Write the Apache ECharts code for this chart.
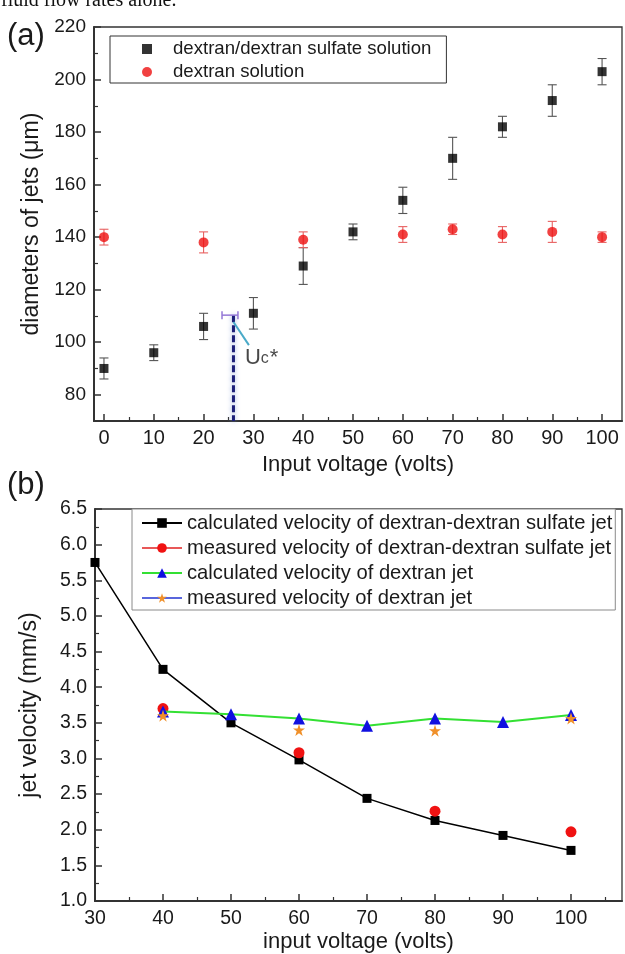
<!DOCTYPE html>
<html><head><meta charset="utf-8">
<script src="https://cdn.jsdelivr.net/npm/echarts@6/dist/echarts.min.js"></script>
<style>html,body{margin:0;padding:0;background:#fff}#c{width:625px;height:954px}</style>
</head><body><div id="c"></div>
<script>
// ---------- Panel (a) data ----------
const voltA = [0, 10, 20, 30, 40, 50, 60, 70, 80, 90, 100];
const diamDDS = [90, 96, 106, 111, 129, 142, 154, 170, 182, 192, 203];
const errDDS = [4, 3, 5, 6, 7, 3, 5, 8, 4, 6, 5];
const voltDex = [0, 20, 40, 60, 70, 80, 90, 100];
const diamDex = [140, 138, 139, 141, 143, 141, 142, 140];
const errDex = [3, 4, 3, 3, 2, 3, 4, 2];
const xTicksA = [0, 10, 20, 30, 40, 50, 60, 70, 80, 90, 100];
const xMinorA = [5, 15, 25, 35, 45, 55, 65, 75, 85, 95];
const yTicksA = [80, 100, 120, 140, 160, 180, 200, 220];
const yMinorA = [90, 110, 130, 150, 170, 190, 210];
// critical voltage annotation (Uc*)
const ucVolt = [25.3];
const ucVoltErr = [1.6];
const ucDiam = [110.3];
const ucLineVolt = [26];
const ucArrowFrom = [29.1, 98.9];
const ucArrowTo = [26.0, 107.7];
const ucLabelAt = [28.3, 93.9];

// ---------- Panel (b) data ----------
const voltB = [30, 40, 50, 60, 70, 80, 90, 100];
const calcVelDDS = [5.75, 4.25, 3.50, 2.98, 2.44, 2.13, 1.92, 1.71];
const voltMeas = [40, 60, 80, 100];
const measVelDDS = [3.70, 3.08, 2.26, 1.97];
const voltDexB = [40, 50, 60, 70, 80, 90, 100];
const calcVelDex = [3.66, 3.62, 3.56, 3.46, 3.56, 3.51, 3.61];
const measVelDex = [3.60, 3.40, 3.39, 3.56];
const xTicksB = [30, 40, 50, 60, 70, 80, 90, 100];
const xMinorB = [35, 45, 55, 65, 75, 85, 95, 105];
const yTicksB = [1.0, 1.5, 2.0, 2.5, 3.0, 3.5, 4.0, 4.5, 5.0, 5.5, 6.0, 6.5];
const yMinorB = [1.25, 1.75, 2.25, 2.75, 3.25, 3.75, 4.25, 4.75, 5.25, 5.75, 6.25];

const nA1 = 'dextran/dextran sulfate solution';
const nA2 = 'dextran solution';
const nB1 = 'calculated velocity of dextran-dextran sulfate jet';
const nB2 = 'measured velocity of dextran-dextran sulfate jet';
const nB3 = 'calculated velocity of dextran jet';
const nB4 = 'measured velocity of dextran jet';

const FONT = "'Liberation Sans', Arial, sans-serif";
const TXT = '#1a1a1a';
const AX = '#333';

const A_XMIN = -2, A_XMAX = 104, A_YMIN = 70, A_YMAX = 220;
const B_XMIN = 30, B_XMAX = 107.5, B_YMIN = 1.0, B_YMAX = 6.5;

function xMain(gi, min, max, ticks, name, nameGap, labelSize, nameSize, margin) {
  return {
    type: 'value', gridIndex: gi, min, max, position: 'bottom',
    name, nameLocation: 'middle', nameGap,
    nameTextStyle: { fontFamily: FONT, fontSize: nameSize, color: TXT },
    axisLine: { show: true, onZero: false, lineStyle: { color: AX, width: 2 } },
    axisTick: { show: true, inside: true, length: 7, customValues: ticks, lineStyle: { color: AX, width: 1.5 } },
    axisLabel: { show: true, customValues: ticks, margin, fontFamily: FONT, fontSize: labelSize, color: TXT },
    splitLine: { show: false }, axisPointer: { show: false }
  };
}
function xMinor(gi, min, max, ticks) {
  return {
    type: 'value', gridIndex: gi, min, max, position: 'bottom',
    axisLine: { show: false, onZero: false },
    axisTick: { show: true, inside: true, length: 4, customValues: ticks, lineStyle: { color: AX, width: 1.2 } },
    axisLabel: { show: false }, splitLine: { show: false }, axisPointer: { show: false }
  };
}
function yMain(gi, min, max, ticks, name, nameGap, labelSize, nameSize) {
  return {
    type: 'value', gridIndex: gi, min, max, position: 'left',
    name, nameLocation: 'middle', nameGap,
    nameTextStyle: { fontFamily: FONT, fontSize: nameSize, color: TXT },
    axisLine: { show: true, onZero: false, lineStyle: { color: AX, width: 2 } },
    axisTick: { show: true, inside: true, length: 7, customValues: ticks, lineStyle: { color: AX, width: 1.5 } },
    axisLabel: { show: true, customValues: ticks, margin: 8, fontFamily: FONT, fontSize: labelSize, color: TXT,
      formatter: v => (gi === 1 ? v.toFixed(1) : String(v)) },
    splitLine: { show: false }, axisPointer: { show: false }
  };
}
function yMinor(gi, min, max, ticks) {
  return {
    type: 'value', gridIndex: gi, min, max, position: 'left',
    axisLine: { show: false, onZero: false },
    axisTick: { show: true, inside: true, length: 4, customValues: ticks, lineStyle: { color: AX, width: 1.2 } },
    axisLabel: { show: false }, splitLine: { show: false }, axisPointer: { show: false }
  };
}

function vErr(color) {
  return function (params, api) {
    const x = api.value(0), y = api.value(1), e = api.value(2);
    const p1 = api.coord([x, y + e]), p2 = api.coord([x, y - e]);
    const w = 4.5, st = { stroke: color, lineWidth: 1.1 };
    return { type: 'group', children: [
      { type: 'line', shape: { x1: p1[0], y1: p1[1], x2: p2[0], y2: p2[1] }, style: st },
      { type: 'line', shape: { x1: p1[0] - w, y1: p1[1], x2: p1[0] + w, y2: p1[1] }, style: st },
      { type: 'line', shape: { x1: p2[0] - w, y1: p2[1], x2: p2[0] + w, y2: p2[1] }, style: st }
    ] };
  };
}
function hErr(color) {
  return function (params, api) {
    const x = api.value(0), y = api.value(1), e = api.value(2);
    const p1 = api.coord([x - e, y]), p2 = api.coord([x + e, y]);
    const h = 4, st = { stroke: color, lineWidth: 1.5 };
    return { type: 'group', children: [
      { type: 'line', shape: { x1: p1[0], y1: p1[1], x2: p2[0], y2: p2[1] }, style: st },
      { type: 'line', shape: { x1: p1[0], y1: p1[1] - h, x2: p1[0], y2: p1[1] + h }, style: st },
      { type: 'line', shape: { x1: p2[0], y1: p2[1] - h, x2: p2[0], y2: p2[1] + h }, style: st }
    ] };
  };
}
function dashDrop(params, api) {
  const x = api.value(0), y = api.value(1);
  const p1 = api.coord([x, y]), p2 = api.coord([x, A_YMIN]);
  return { type: 'line', shape: { x1: p1[0], y1: p1[1], x2: p2[0], y2: p2[1] },
    style: { stroke: '#1c1f78', lineWidth: 3, lineDash: [7, 3],
      shadowColor: 'rgba(120,150,210,0.8)', shadowBlur: 5 } };
}

const STAR = 'path://M12,0 L14.9,8.6 L24,8.6 L16.6,14 L19.4,23 L12,17.6 L4.6,23 L7.4,14 L0,8.6 L9.1,8.6 Z';

const option = {
  backgroundColor: '#fff',
  animation: false,
  textStyle: { fontFamily: FONT },
  graphic: [
    { type: 'text', left: 1, top: -9, style: { text: 'fluid flow rates alone.', font: "20px 'Liberation Serif', 'Times New Roman', serif", fill: '#111' } },
    { type: 'text', left: 7, top: 21, style: { text: '(a)', font: "31px " + FONT, fill: TXT } },
    { type: 'text', left: 7, top: 470, style: { text: '(b)', font: "31px " + FONT, fill: TXT } }
  ],
  grid: [
    { left: 94, top: 27, width: 528, height: 394, show: true, borderColor: AX, borderWidth: 1.3, backgroundColor: 'transparent' },
    { left: 95, top: 509, width: 527, height: 393, show: true, borderColor: AX, borderWidth: 1.3, backgroundColor: 'transparent' }
  ],
  xAxis: [
    xMain(0, A_XMIN, A_XMAX, xTicksA, 'Input voltage (volts)', 33, 20, 22, 7),
    xMinor(0, A_XMIN, A_XMAX, xMinorA),
    xMain(1, B_XMIN, B_XMAX, xTicksB, 'input voltage (volts)', 30, 19.5, 22, 8),
    xMinor(1, B_XMIN, B_XMAX, xMinorB)
  ],
  yAxis: [
    yMain(0, A_YMIN, A_YMAX, yTicksA, 'diameters of jets (\u03bcm)', 46, 19, 23),
    yMinor(0, A_YMIN, A_YMAX, yMinorA),
    yMain(1, B_YMIN, B_YMAX, yTicksB, 'jet velocity (mm/s)', 54, 19.5, 23),
    yMinor(1, B_YMIN, B_YMAX, yMinorB)
  ],
  legend: [
    {
      left: 110, top: 36, orient: 'vertical', itemGap: 3, itemWidth: 10, itemHeight: 10,
      padding: [3, 15, 1, 32], borderColor: '#333', borderWidth: 1, backgroundColor: '#fff',
      textStyle: { fontFamily: FONT, fontSize: 18.6, color: TXT, lineHeight: 20, padding: [0, 0, 0, 16] },
      selectedMode: false,
      data: [{ name: nA1, icon: 'rect' }, { name: nA2, icon: 'circle' }]
    },
    {
      left: 132, top: 509, orient: 'vertical', itemGap: 3, itemWidth: 40, itemHeight: 12,
      padding: [3, 3, 1, 9], borderColor: '#8a8a8a', borderWidth: 1, backgroundColor: '#fff',
      textStyle: { fontFamily: FONT, fontSize: 20.2, color: TXT, lineHeight: 22 },
      selectedMode: false,
      data: [
        { name: nB1 },
        { name: nB2, lineStyle: { width: 1.5, color: '#e02020', opacity: 1 } },
        { name: nB3 },
        { name: nB4, lineStyle: { width: 1.5, color: '#2233d0', opacity: 1 } }
      ]
    }
  ],
  series: [
    // ---- panel (a) ----
    { type: 'custom', xAxisIndex: 0, yAxisIndex: 0, renderItem: vErr('#555'), z: 2, silent: true,
      encode: { x: 0, y: 1 }, data: voltA.map((v, i) => [v, diamDDS[i], errDDS[i]]) },
    { type: 'custom', xAxisIndex: 0, yAxisIndex: 0, renderItem: vErr('#e86060'), z: 2, silent: true,
      encode: { x: 0, y: 1 }, data: voltDex.map((v, i) => [v, diamDex[i], errDex[i]]) },
    { type: 'scatter', name: nA1, xAxisIndex: 0, yAxisIndex: 0, symbol: 'rect', symbolSize: 9, z: 3,
      itemStyle: { color: '#000' }, data: voltA.map((v, i) => [v, diamDDS[i]]) },
    { type: 'scatter', name: nA2, xAxisIndex: 0, yAxisIndex: 0, symbol: 'circle', symbolSize: 10, z: 3,
      itemStyle: { color: '#ee1111' }, data: voltDex.map((v, i) => [v, diamDex[i]]) },
    { type: 'custom', xAxisIndex: 0, yAxisIndex: 0, renderItem: dashDrop, z: 4, silent: true,
      encode: { x: 0, y: 1 }, data: ucLineVolt.map((v, i) => [v, ucDiam[i]]) },
    { type: 'custom', xAxisIndex: 0, yAxisIndex: 0, renderItem: hErr('#9478d6'), z: 5, silent: true,
      encode: { x: 0, y: 1 }, data: ucVolt.map((v, i) => [v, ucDiam[i], ucVoltErr[i]]) },
    { type: 'scatter', xAxisIndex: 0, yAxisIndex: 0, symbolSize: 0, z: 6, silent: true,
      data: [ucLabelAt],
      label: { show: true, position: 'right', distance: 0,
        formatter: '{u|U}{c|c}{s|*}',
        rich: {
          u: { fontFamily: FONT, fontSize: 22, color: TXT },
          c: { fontFamily: FONT, fontSize: 16, color: TXT, padding: [0, 1, 0, 0] },
          s: { fontFamily: FONT, fontSize: 22, color: TXT }
        } },
      markLine: { silent: true, symbol: ['none', 'arrow'], symbolSize: [0, 9], animation: false,
        label: { show: false },
        lineStyle: { color: '#4aaac8', width: 2, type: 'solid' },
        data: [[{ coord: ucArrowFrom }, { coord: ucArrowTo }]] } },
    // ---- panel (b) ----
    { type: 'line', name: nB1, xAxisIndex: 2, yAxisIndex: 2, z: 3,
      symbol: 'rect', symbolSize: 9, showSymbol: true,
      lineStyle: { color: '#000', width: 1.5 }, itemStyle: { color: '#000' },
      data: voltB.map((v, i) => [v, calcVelDDS[i]]) },
    { type: 'line', name: nB2, xAxisIndex: 2, yAxisIndex: 2, z: 4,
      symbol: 'circle', symbolSize: 11, showSymbol: true,
      lineStyle: { color: '#e02020', width: 0 }, itemStyle: { color: '#f01212' },
      data: voltMeas.map((v, i) => [v, measVelDDS[i]]) },
    { type: 'line', name: nB3, xAxisIndex: 2, yAxisIndex: 2, z: 5,
      symbol: 'triangle', symbolSize: 12, showSymbol: true,
      lineStyle: { color: '#33e033', width: 2 }, itemStyle: { color: '#1010e0' },
      data: voltDexB.map((v, i) => [v, calcVelDex[i]]) },
    { type: 'line', name: nB4, xAxisIndex: 2, yAxisIndex: 2, z: 6,
      symbol: STAR, symbolSize: 12, showSymbol: true,
      lineStyle: { color: '#2233d0', width: 0 }, itemStyle: { color: '#f0902a' },
      data: voltMeas.map((v, i) => [v, measVelDex[i]]) }
  ]
};

const chart = echarts.init(document.getElementById('c'), null, { renderer: 'canvas', width: 625, height: 954 });
chart.setOption(option);
</script>
</body></html>
